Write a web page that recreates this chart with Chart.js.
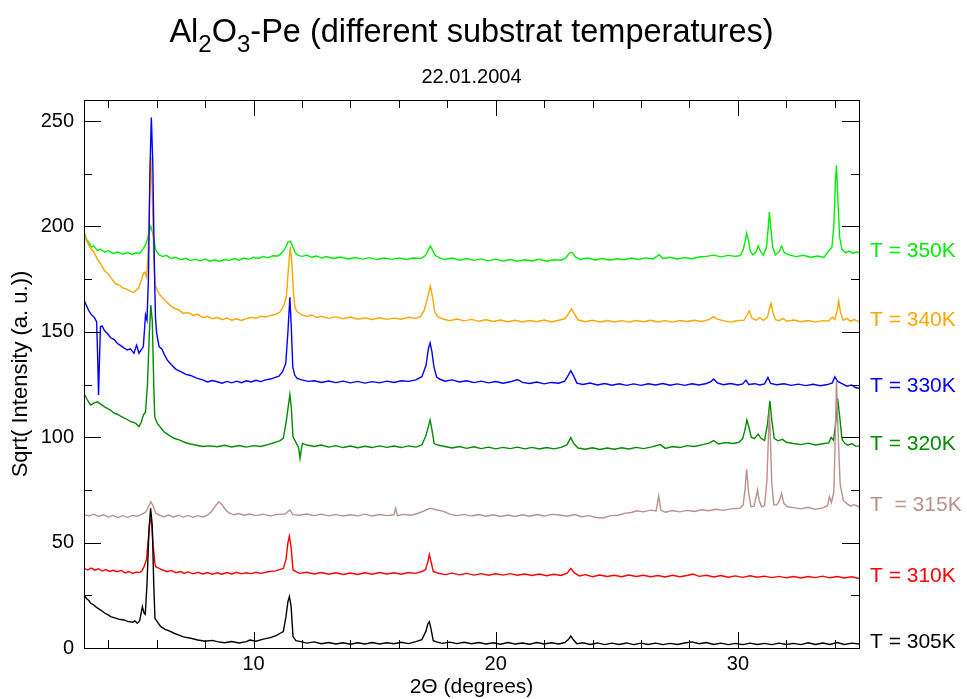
<!DOCTYPE html>
<html>
<head>
<meta charset="utf-8">
<script src="https://cdn.jsdelivr.net/npm/chart.js@4"></script>
<style>
  body { margin: 0; background: #fff; }
  #wrap { position: relative; width: 967px; height: 699px; font-family: "Liberation Sans", Arial, sans-serif; }
  #title { position: absolute; left: 0; width: 943px; top: 12px; text-align: center; font-size: 32.5px; line-height: 38px; }
  #title span { font-size: 24px; position: relative; top: 10px; }
  #sub { position: absolute; left: 0; width: 943px; top: 64px; text-align: center; font-size: 20px; line-height: 24px; }
</style>
</head>
<body>
<div id="wrap">
  <div id="title">Al<span>2</span>O<span>3</span>-Pe (different substrat temperatures)</div>
  <div id="sub">22.01.2004</div>
  <canvas id="myChart" width="967" height="699"></canvas>
</div>
<script>
// 2Theta / sqrt(intensity) pairs
const s305 = [[3.00,25.1],[3.10,23.5],[3.20,22.5],[3.28,21.2],[3.40,20.4],[3.55,19.0],[3.69,18.0],[3.85,16.6],[4.00,15.7],[4.10,14.9],[4.30,14.2],[4.50,13.5],[4.65,13.3],[4.80,12.6],[5.00,12.2],[5.10,12.9],[5.20,11.7],[5.30,13.0],[5.41,19.6],[5.48,16.5],[5.53,16],[5.60,30],[5.68,55],[5.75,66.3],[5.82,58],[5.88,30],[5.93,14.1],[6.05,12.0],[6.17,10.1],[6.35,8.8],[6.50,8.2],[6.72,7.0],[6.90,6.2],[7.10,5.3],[7.41,4.6],[7.70,3.8],[8.00,3.2],[8.30,3.6],[8.50,3.0],[8.80,2.5],[9.10,3.1],[9.40,2.4],[9.70,3.0],[9.85,3.8],[10.10,3.2],[10.40,4.2],[10.70,4.9],[10.95,6.0],[11.10,7.0],[11.23,7.8],[11.34,15],[11.42,22],[11.48,24.4],[11.55,20],[11.63,5.4],[11.75,3.5],[11.95,3.0],[12.20,2.3],[12.50,2.9],[12.80,2.0],[13.10,2.6],[13.40,1.9],[13.70,2.5],[14.00,1.8],[14.30,2.5],[14.60,1.9],[14.90,2.6],[15.20,1.9],[15.50,2.5],[15.80,2.0],[16.10,2.7],[16.40,2.1],[16.70,3.0],[16.95,4.0],[17.12,8],[17.20,11.5],[17.26,12.5],[17.33,9],[17.42,3.5],[17.55,2.9],[17.80,2.2],[18.10,2.8],[18.40,2.1],[18.70,2.7],[19.00,2.0],[19.30,2.6],[19.60,1.9],[19.90,2.5],[20.20,1.8],[20.50,2.6],[20.80,1.9],[21.10,2.4],[21.40,1.8],[21.70,2.6],[22.00,1.9],[22.30,2.5],[22.60,1.9],[22.85,2.6],[23.00,4.0],[23.10,5.7],[23.20,4.0],[23.35,2.0],[23.60,2.5],[23.90,1.7],[24.20,2.4],[24.50,1.6],[24.80,2.3],[25.10,1.7],[25.40,2.4],[25.70,1.6],[26.00,2.3],[26.30,1.7],[26.60,2.3],[26.90,1.6],[27.20,2.2],[27.50,1.7],[27.80,2.4],[28.10,2.9],[28.40,2.0],[28.70,2.6],[29.00,1.7],[29.30,2.3],[29.60,1.6],[29.90,2.2],[30.20,1.6],[30.50,2.3],[30.80,1.7],[31.10,2.2],[31.40,1.6],[31.70,2.3],[32.00,1.7],[32.30,2.2],[32.60,1.6],[32.90,2.5],[33.20,1.7],[33.50,2.4],[33.80,1.7],[34.10,2.6],[34.40,1.7],[34.70,2.3],[35.00,1.9]];

const s310 = [[3.00,37.8],[3.15,37.0],[3.30,37.9],[3.45,36.9],[3.60,37.6],[3.75,36.5],[3.90,37.2],[4.05,36.3],[4.20,36.9],[4.37,36.2],[4.55,36.8],[4.70,35.6],[4.85,36.3],[5.00,35.4],[5.15,36.0],[5.30,35.8],[5.40,36.8],[5.48,38.6],[5.58,42],[5.66,52],[5.72,61],[5.78,60],[5.86,48],[5.93,40],[5.96,38.6],[6.10,37.8],[6.25,37.0],[6.44,36.2],[6.60,36.8],[6.80,35.7],[7.00,36.3],[7.13,35.4],[7.30,36.1],[7.50,35.2],[7.70,35.9],[7.90,35.1],[8.10,35.8],[8.30,35.0],[8.50,35.7],[8.70,35.0],[8.90,35.8],[9.10,35.1],[9.30,35.9],[9.50,35.2],[9.70,35.7],[9.90,35.3],[10.10,35.9],[10.30,35.4],[10.60,36.2],[10.90,36.6],[11.10,37.3],[11.23,37.8],[11.34,42],[11.42,50],[11.48,53.1],[11.55,48],[11.63,37.1],[11.75,36.2],[11.90,35.4],[12.20,35.9],[12.50,35.1],[12.80,35.8],[13.10,35.0],[13.40,35.7],[13.70,34.9],[14.00,35.6],[14.30,34.9],[14.60,35.7],[14.90,35.0],[15.20,35.8],[15.50,35.1],[15.80,35.7],[16.10,35.0],[16.40,35.8],[16.70,35.4],[16.95,36.3],[17.10,37.1],[17.20,41],[17.26,44.4],[17.33,41],[17.42,36.3],[17.60,35.6],[17.90,34.8],[18.20,35.5],[18.50,34.7],[18.80,35.4],[19.10,34.6],[19.40,35.3],[19.70,34.5],[20.00,35.2],[20.30,34.6],[20.60,35.3],[20.90,34.5],[21.20,35.1],[21.50,34.4],[21.80,35.1],[22.10,34.3],[22.40,35.0],[22.70,34.4],[22.95,35.5],[23.10,37.8],[23.25,35.6],[23.45,34.2],[23.70,34.8],[24.00,33.8],[24.30,34.6],[24.60,33.9],[24.90,34.5],[25.20,33.8],[25.50,34.6],[25.80,33.9],[26.10,34.5],[26.40,33.8],[26.70,34.4],[27.00,33.7],[27.30,34.5],[27.60,33.8],[27.90,34.4],[28.14,35.1],[28.40,34.0],[28.70,34.5],[29.00,33.7],[29.30,34.4],[29.60,33.6],[29.90,34.2],[30.20,33.5],[30.50,34.3],[30.80,33.6],[31.10,34.1],[31.40,33.4],[31.70,34.0],[32.00,33.3],[32.30,33.9],[32.60,33.2],[32.90,33.9],[33.20,33.4],[33.50,34.1],[33.80,33.3],[34.10,33.9],[34.40,33.2],[34.70,33.8],[35.00,33.0]];

const s315 = [[3.00,63.4],[3.20,62.6],[3.40,63.5],[3.60,62.4],[3.80,63.2],[4.00,62.1],[4.20,62.9],[4.40,61.9],[4.60,62.8],[4.80,62.0],[5.00,62.9],[5.20,62.5],[5.40,63.5],[5.55,64.5],[5.68,67.5],[5.76,69.4],[5.85,67.5],[5.96,64],[6.10,63.0],[6.30,62.3],[6.50,63.1],[6.70,62.2],[6.90,63.0],[7.10,62.1],[7.30,62.9],[7.50,62.0],[7.70,62.8],[7.90,62.2],[8.10,63.0],[8.25,64.5],[8.40,67],[8.57,69.4],[8.70,68],[8.85,65.5],[9.00,64.0],[9.20,63.2],[9.40,63.8],[9.60,63.0],[9.85,63.6],[10.10,62.8],[10.40,63.5],[10.70,62.7],[11.00,63.4],[11.30,63.6],[11.50,65.5],[11.62,63.3],[11.90,63.0],[12.20,63.6],[12.50,62.8],[12.80,63.5],[13.10,62.7],[13.40,63.4],[13.70,62.6],[14.00,63.2],[14.30,62.7],[14.60,63.5],[14.90,62.6],[15.20,63.3],[15.50,62.8],[15.80,63.2],[15.87,66.3],[15.94,62.8],[16.20,63.4],[16.50,63.0],[16.74,63.7],[17.00,64.8],[17.29,66.3],[17.55,65.6],[17.85,64.8],[18.10,63.5],[18.40,62.8],[18.70,63.4],[19.00,62.6],[19.30,63.3],[19.60,62.5],[19.90,63.2],[20.20,62.4],[20.50,63.1],[20.80,62.4],[21.10,63.2],[21.40,62.5],[21.70,63.3],[22.00,62.6],[22.30,63.4],[22.65,63.1],[22.95,62.5],[23.25,63.3],[23.55,62.3],[23.85,62.8],[24.15,61.9],[24.43,61.7],[24.75,62.8],[25.05,63.0],[25.35,64.0],[25.60,64.3],[25.83,65.1],[26.10,64.6],[26.40,65.4],[26.62,65.0],[26.73,72.1],[26.82,65.3],[27.00,64.4],[27.30,65.2],[27.60,64.6],[27.90,65.3],[28.20,64.8],[28.50,65.6],[28.80,65.1],[29.10,65.8],[29.40,65.3],[29.70,66.0],[30.08,66.3],[30.22,68],[30.30,76],[30.36,84.8],[30.44,74],[30.54,67],[30.66,67.2],[30.76,72],[30.81,75],[30.88,70],[30.98,67],[31.10,67.5],[31.20,80],[31.26,100],[31.30,112],[31.34,100],[31.40,78],[31.48,68],[31.60,67.8],[31.72,70],[31.80,73.4],[31.90,68.5],[32.05,67.0],[32.30,66.6],[32.60,66.0],[32.90,66.8],[33.20,65.8],[33.50,66.5],[33.70,67.5],[33.78,71.8],[33.86,69],[33.96,74],[34.02,100],[34.07,127],[34.13,105],[34.22,78],[34.35,70],[34.50,68.5],[34.65,67.3],[34.80,68.0],[35.00,67.0]];

const s320 = [[3.00,120.8],[3.10,118.5],[3.20,116.5],[3.28,115.3],[3.40,116.2],[3.55,116.8],[3.70,115.6],[3.85,114.4],[3.96,113.7],[4.10,112.8],[4.25,111.4],[4.40,110.8],[4.51,110.0],[4.65,109.2],[4.80,108.3],[4.93,107.4],[5.05,107.0],[5.13,106.6],[5.20,105.8],[5.27,105.0],[5.36,107],[5.45,110.5],[5.54,112],[5.62,125],[5.70,150],[5.76,162.7],[5.82,155],[5.88,125],[5.92,109.7],[5.97,108.2],[6.03,106.6],[6.15,104.8],[6.30,102.6],[6.50,101.0],[6.72,99.5],[6.95,98.6],[7.20,97.4],[7.41,96.8],[7.65,96.2],[7.90,95.6],[8.20,95.9],[8.50,95.5],[8.80,96.2],[9.10,95.4],[9.40,96.1],[9.70,95.3],[10.00,96.0],[10.30,95.6],[10.60,96.5],[10.90,97.6],[11.10,98.4],[11.23,99.5],[11.36,108.2],[11.50,120.3],[11.56,114],[11.63,100.2],[11.77,97.1],[11.86,95],[11.92,90],[11.97,94],[12.02,97.1],[12.20,96.3],[12.50,95.6],[12.80,96.3],[13.10,95.3],[13.40,96.0],[13.70,95.1],[14.00,95.8],[14.30,95.0],[14.60,95.7],[14.90,95.1],[15.20,95.9],[15.50,95.2],[15.80,95.8],[16.10,95.1],[16.40,95.9],[16.70,95.3],[16.95,96.3],[17.10,100.2],[17.22,105],[17.29,108.2],[17.36,104],[17.46,97],[17.60,96.3],[17.90,95.6],[18.20,94.9],[18.50,95.6],[18.80,94.7],[19.10,95.5],[19.40,94.6],[19.70,95.3],[20.00,94.5],[20.30,95.2],[20.60,94.6],[20.90,95.3],[21.20,94.5],[21.50,95.2],[21.80,94.4],[22.10,95.1],[22.40,94.5],[22.70,95.2],[22.95,96.5],[23.10,99.8],[23.22,97],[23.40,94.9],[23.70,94.3],[24.00,95.0],[24.30,94.2],[24.60,94.9],[24.90,94.3],[25.20,95.0],[25.50,94.4],[25.80,95.2],[26.10,94.6],[26.40,95.3],[26.80,96.5],[27.00,94.7],[27.30,95.6],[27.60,95.1],[27.90,96.0],[28.20,95.6],[28.50,96.4],[28.80,97.2],[29.00,98.4],[29.20,96.8],[29.50,97.5],[29.80,97.0],[30.05,97.6],[30.20,99.5],[30.30,104],[30.37,108.2],[30.45,105],[30.55,100],[30.68,99.3],[30.84,101.5],[30.95,99.5],[31.10,98.5],[31.22,106],[31.32,117.3],[31.40,108],[31.50,99.5],[31.65,98.3],[31.84,99.0],[32.00,97.6],[32.30,97.0],[32.60,96.5],[32.90,97.2],[33.20,96.3],[33.50,96.9],[33.75,97.3],[33.85,99.9],[33.95,98.5],[34.05,108],[34.12,118.4],[34.20,110],[34.30,99],[34.42,97],[34.55,96.2],[34.70,97.0],[34.85,95.8],[35.00,95.8]];

const s330 = [[3.00,165.1],[3.10,162.5],[3.20,160],[3.30,158.2],[3.42,157],[3.52,154.8],[3.56,140],[3.60,120],[3.64,137],[3.68,152.4],[3.75,152.8],[3.85,150.5],[3.96,149.3],[4.10,147.2],[4.25,146.3],[4.37,144.6],[4.50,143.6],[4.65,142.4],[4.79,141.4],[4.92,141.9],[5.06,139.8],[5.17,143.7],[5.22,142],[5.27,139.8],[5.36,141.5],[5.45,143],[5.54,158],[5.60,155.6],[5.66,175],[5.72,225],[5.78,251.7],[5.84,230],[5.90,185],[5.95,157],[6.00,149.3],[6.10,143],[6.22,141.8],[6.32,139.2],[6.44,136.6],[6.60,134.5],[6.80,132.2],[7.00,131.1],[7.20,129.8],[7.40,129.3],[7.68,127.9],[7.90,127.2],[8.10,126.2],[8.30,126.9],[8.50,126.3],[8.70,125.6],[8.90,126.5],[9.10,125.8],[9.30,126.6],[9.50,125.9],[9.70,126.8],[9.90,126.2],[10.10,127.0],[10.30,126.4],[10.50,127.2],[10.70,127.6],[10.90,128.4],[11.05,129.0],[11.20,131.1],[11.33,135],[11.42,150],[11.50,166.4],[11.56,152],[11.62,133.4],[11.70,129.5],[11.80,127.9],[12.00,127.2],[12.25,126.5],[12.50,126.8],[12.80,126.0],[13.10,126.7],[13.40,125.9],[13.70,126.6],[14.00,125.8],[14.30,126.5],[14.60,125.7],[14.90,126.4],[15.20,125.8],[15.50,126.6],[15.80,126.0],[16.10,126.8],[16.40,126.5],[16.70,127.2],[16.95,128.7],[17.12,134],[17.22,142],[17.29,144.8],[17.36,141],[17.45,133.4],[17.56,128.5],[17.70,127.5],[17.90,126.6],[18.20,127.2],[18.50,126.2],[18.80,126.8],[19.10,125.9],[19.40,126.6],[19.70,125.8],[20.00,126.4],[20.30,125.6],[20.60,126.3],[20.90,127.4],[21.10,126.0],[21.40,125.5],[21.70,126.2],[22.00,125.3],[22.30,126.0],[22.60,125.6],[22.85,126.6],[23.00,129.5],[23.10,131.6],[23.22,129],[23.35,125.7],[23.60,125.0],[23.90,125.7],[24.20,124.8],[24.50,125.5],[24.80,124.7],[25.10,125.4],[25.40,124.6],[25.70,125.3],[26.00,124.6],[26.30,125.4],[26.60,124.8],[26.90,125.5],[27.20,124.7],[27.50,125.3],[27.80,124.6],[28.10,125.4],[28.40,124.8],[28.70,125.5],[28.90,126.5],[29.00,127.6],[29.15,125.8],[29.40,124.9],[29.70,125.5],[30.00,124.8],[30.20,125.3],[30.33,127.1],[30.45,125.0],[30.70,125.4],[30.90,124.8],[31.10,125.3],[31.24,128.4],[31.35,125.5],[31.60,124.9],[31.90,125.4],[32.20,124.6],[32.50,125.2],[32.80,124.5],[33.10,125.1],[33.40,124.4],[33.70,125.0],[33.90,125.8],[34.00,128.7],[34.12,126.5],[34.30,125.4],[34.50,124.2],[34.70,124.8],[34.85,123.6],[35.00,123.2]];

const s340 = [[3.00,197],[3.10,193.5],[3.25,190],[3.40,188],[3.55,184.5],[3.70,182],[3.85,179],[4.00,177.5],[4.15,175],[4.30,172.8],[4.45,172.3],[4.60,170.8],[4.75,170.4],[4.90,169.3],[5.05,168.7],[5.15,169.8],[5.25,170.6],[5.35,174],[5.45,177.7],[5.52,178.3],[5.58,176],[5.64,185],[5.70,210],[5.76,233],[5.82,215],[5.88,185],[5.94,172],[6.00,170.5],[6.10,168],[6.20,166.7],[6.35,164.8],[6.50,163.2],[6.70,161.3],[6.90,160.5],[7.10,158.7],[7.30,159.2],[7.50,157.8],[7.70,158.3],[7.90,156.8],[8.10,157.3],[8.30,156.2],[8.50,156.9],[8.70,155.8],[8.90,156.6],[9.10,155.5],[9.30,156.2],[9.50,155.4],[9.70,156.3],[9.90,156.9],[10.10,156.4],[10.30,157.4],[10.50,157.0],[10.70,157.8],[10.90,158.2],[11.10,159.5],[11.25,162.5],[11.36,167],[11.44,180],[11.52,190.4],[11.58,183],[11.65,168],[11.72,161],[11.82,159.4],[12.00,158.0],[12.20,157.3],[12.40,158.0],[12.60,156.8],[12.80,157.4],[13.10,156.4],[13.40,157.1],[13.70,156.2],[14.00,157.0],[14.30,156.0],[14.60,156.6],[14.90,155.9],[15.20,156.7],[15.50,155.9],[15.80,156.5],[16.10,156.0],[16.40,156.9],[16.70,156.4],[16.90,157.3],[17.05,160.3],[17.18,166],[17.30,171.7],[17.40,166],[17.48,159.6],[17.60,157.2],[17.80,156.2],[18.10,155.3],[18.40,156.1],[18.70,155.2],[19.00,155.9],[19.30,155.0],[19.60,155.7],[19.90,154.9],[20.20,155.6],[20.50,154.8],[20.80,155.5],[21.10,154.7],[21.40,155.4],[21.70,154.8],[22.00,155.6],[22.30,154.7],[22.60,155.5],[22.85,156.2],[23.00,158.5],[23.13,160.8],[23.25,158.5],[23.40,155.6],[23.70,154.8],[24.00,155.5],[24.30,154.6],[24.60,155.4],[24.90,154.7],[25.20,155.3],[25.50,154.6],[25.80,155.4],[26.10,154.8],[26.40,155.5],[26.70,154.7],[27.00,155.3],[27.30,154.6],[27.60,155.4],[27.90,154.9],[28.20,155.5],[28.50,154.9],[28.80,155.8],[29.00,157.2],[29.15,156],[29.40,155.3],[29.70,154.6],[30.00,155.4],[30.25,155.5],[30.38,158],[30.47,159.9],[30.58,156.5],[30.75,155.5],[30.90,156.8],[31.05,155.5],[31.22,157],[31.30,161],[31.37,163.5],[31.45,159],[31.55,155.8],[31.70,155.3],[31.87,156.4],[32.00,155.0],[32.30,155.6],[32.60,154.8],[32.90,155.4],[33.20,154.6],[33.50,155.3],[33.75,155.1],[33.90,157],[34.00,155.8],[34.10,160],[34.16,164.6],[34.24,159],[34.35,155.5],[34.50,156.4],[34.65,155.0],[34.80,155.8],[35.00,154.8]];

const s350 = [[3.00,197.5],[3.10,194],[3.20,192.5],[3.30,190.2],[3.40,190.8],[3.55,188.6],[3.70,189.2],[3.85,187.8],[4.00,188.5],[4.20,187.2],[4.40,187.9],[4.60,186.8],[4.80,187.6],[5.00,186.7],[5.15,187.5],[5.30,187.2],[5.45,189.5],[5.55,191.5],[5.62,194],[5.70,198],[5.76,200],[5.82,197.5],[5.88,194.5],[5.94,190],[6.00,188],[6.10,186.6],[6.25,185.7],[6.40,186.3],[6.60,184.8],[6.80,185.4],[7.00,184.2],[7.20,184.9],[7.40,183.8],[7.60,184.5],[7.80,183.6],[8.00,184.6],[8.20,183.5],[8.40,184.2],[8.60,183.4],[8.80,184.3],[9.00,183.9],[9.20,184.8],[9.40,184.0],[9.60,185.0],[9.80,184.4],[10.00,185.4],[10.20,184.8],[10.40,185.7],[10.60,185.1],[10.80,186.1],[11.00,186.0],[11.15,187.2],[11.30,189.5],[11.42,192.5],[11.52,193],[11.62,190.5],[11.72,187.5],[11.85,186.3],[12.00,185.8],[12.20,186.4],[12.40,185.4],[12.60,186.0],[12.80,185.0],[13.00,185.7],[13.30,184.8],[13.60,185.5],[13.90,184.6],[14.20,185.3],[14.50,184.5],[14.80,185.2],[15.10,184.3],[15.40,185.0],[15.70,184.4],[16.00,185.1],[16.30,184.3],[16.60,185.0],[16.90,184.8],[17.10,186.2],[17.22,189],[17.30,190.7],[17.38,189],[17.50,186.3],[17.70,185.0],[17.90,184.3],[18.20,185.0],[18.50,184.0],[18.80,184.8],[19.10,183.9],[19.40,184.6],[19.70,183.7],[20.00,184.5],[20.30,183.6],[20.60,184.3],[20.90,183.5],[21.20,184.2],[21.50,183.6],[21.80,184.4],[22.10,183.5],[22.40,184.2],[22.70,184.0],[22.90,185.2],[23.05,187.5],[23.15,187.8],[23.30,185.4],[23.50,184.3],[23.80,185.0],[24.10,184.1],[24.40,184.8],[24.70,184.0],[25.00,184.7],[25.30,184.2],[25.60,185.0],[25.90,184.3],[26.20,185.1],[26.50,184.6],[26.75,186.6],[26.90,184.8],[27.20,185.4],[27.50,184.6],[27.80,185.3],[28.10,184.7],[28.40,185.5],[28.70,185.8],[29.00,186.4],[29.30,185.6],[29.60,186.3],[29.90,185.8],[30.10,186.2],[30.22,189],[30.30,193],[30.36,196.7],[30.44,193],[30.52,188],[30.62,186.5],[30.75,188],[30.84,190.8],[30.94,188],[31.05,186.3],[31.18,190],[31.25,199],[31.30,207],[31.36,199],[31.44,190],[31.55,186.5],[31.70,188],[31.80,190.7],[31.92,187.5],[32.10,186.5],[32.40,185.7],[32.70,186.3],[33.00,185.4],[33.30,186.0],[33.55,185.3],[33.75,188.5],[33.88,190],[33.96,200],[34.03,222],[34.07,229],[34.12,215],[34.20,195],[34.30,189],[34.45,187.5],[34.60,188.3],[34.75,187.2],[34.90,188.0],[35.00,187.5]];

const seriesData = [s305, s310, s315, s320, s330, s340, s350];
const seriesLabels = ["T = 305K", "T = 310K", "T  = 315K", "T = 320K", "T = 330K", "T = 340K", "T = 350K"];
const seriesColors = ["#000000", "#ff0000", "#bc8f8f", "#008c00", "#0000ff", "#ffa500", "#00ee00"];

const xTicks = [4, 6, 8, 10, 12, 14, 16, 18, 20, 22, 24, 26, 28, 30, 32, 34];
const yTicks = [0, 25, 50, 75, 100, 125, 150, 175, 200, 225, 250];

const FONT = "'Liberation Sans', Arial, sans-serif";

// frame + inward ticks on all four sides
const frameTicks = {
    id: 'frameTicks',
    afterDraw(chart) {
        const { ctx, chartArea: a, scales } = chart;
        ctx.save();
        ctx.strokeStyle = '#000';
        ctx.lineWidth = 1;
        ctx.strokeRect(a.left + 0.5, a.top + 0.5, a.right - a.left, a.bottom - a.top);
        ctx.beginPath();
        xTicks.forEach(v => {
            const x = Math.round(scales.x.getPixelForValue(v)) + 0.5;
            const len = v % 10 === 0 ? 16 : 8;
            ctx.moveTo(x, a.bottom); ctx.lineTo(x, a.bottom - len);
            ctx.moveTo(x, a.top); ctx.lineTo(x, a.top + len);
        });
        yTicks.forEach(v => {
            const y = Math.round(scales.y.getPixelForValue(v)) + 0.5;
            const len = v % 50 === 0 ? 17 : 8;
            ctx.moveTo(a.left, y); ctx.lineTo(a.left + len, y);
            ctx.moveTo(a.right, y); ctx.lineTo(a.right - len, y);
        });
        ctx.stroke();
        ctx.restore();
    }
};

// temperature labels at the end of each curve
const endLabels = {
    id: 'endLabels',
    afterDatasetsDraw(chart) {
        const { ctx, chartArea: a, scales } = chart;
        ctx.save();
        ctx.font = '21px ' + FONT;
        ctx.textBaseline = 'middle';
        ctx.textAlign = 'left';
        seriesData.forEach((d, i) => {
            const y = scales.y.getPixelForValue(d[d.length - 1][1]);
            ctx.fillStyle = seriesColors[i];
            ctx.fillText(seriesLabels[i], a.right + 11, y - 2);
        });
        ctx.restore();
    }
};

const ctx = document.getElementById('myChart');

new Chart(ctx, {
    type: 'line',
    data: {
        datasets: seriesData.map((d, i) => ({
            label: seriesLabels[i],
            data: d.map(p => ({ x: p[0], y: p[1] })),
            borderColor: seriesColors[i],
            borderWidth: 1.4,
            pointRadius: 0,
            tension: 0,
            fill: false
        }))
    },
    options: {
        responsive: false,
        animation: false,
        layout: { padding: { top: 100, right: 108, left: 0, bottom: 0 } },
        plugins: {
            legend: { display: false },
            tooltip: { enabled: false }
        },
        scales: {
            x: {
                type: 'linear',
                min: 3,
                max: 35,
                afterFit: s => { s.height = 51; },
                afterBuildTicks: s => { s.ticks = xTicks.map(v => ({ value: v })); },
                grid: { display: false, drawTicks: false },
                border: { display: false },
                ticks: {
                    autoSkip: false,
                    maxRotation: 0,
                    padding: 4,
                    color: '#000',
                    font: { family: FONT, size: 20 },
                    callback: v => (v % 10 === 0 ? v : '')
                },
                title: {
                    display: true,
                    text: '2Θ (degrees)',
                    color: '#000',
                    font: { family: FONT, size: 21, lineHeight: 1.0 },
                    padding: { top: 0, bottom: 1 }
                }
            },
            y: {
                type: 'linear',
                min: 0,
                max: 260,
                afterFit: s => { s.width = 84; },
                afterBuildTicks: s => { s.ticks = yTicks.map(v => ({ value: v })); },
                grid: { display: false, drawTicks: false },
                border: { display: false },
                ticks: {
                    padding: 10,
                    color: '#000',
                    font: { family: FONT, size: 20 },
                    callback: v => (v % 50 === 0 ? v : '')
                },
                title: {
                    display: true,
                    text: 'Sqrt( Intensity (a. u.))',
                    color: '#000',
                    font: { family: FONT, size: 22, lineHeight: 1.0 },
                    padding: { top: 10, bottom: 0 }
                }
            }
        }
    },
    plugins: [frameTicks, endLabels]
});
</script>
</body>
</html>
